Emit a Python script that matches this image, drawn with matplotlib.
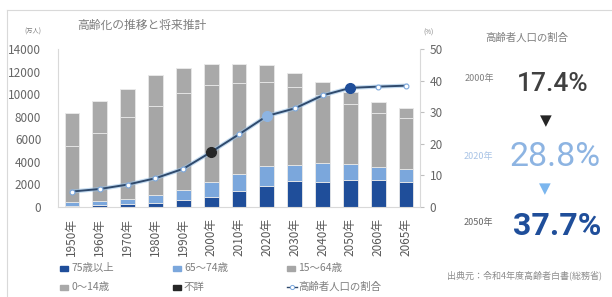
import matplotlib
matplotlib.use("Agg")
import matplotlib.pyplot as plt
from matplotlib.patches import Rectangle
from matplotlib.lines import Line2D
import numpy as np

plt.rcParams['font.family'] = ['Noto Sans CJK JP', 'DejaVu Sans']

years = ["1950年", "1960年", "1970年", "1980年", "1990年", "2000年", "2010年",
         "2020年", "2030年", "2040年", "2050年", "2060年", "2065年"]
age75_over = [107, 163, 224, 366, 597, 900, 1407, 1860, 2288, 2239, 2417, 2387, 2248]
age65_74 = [309, 376, 516, 699, 892, 1301, 1517, 1747, 1428, 1681, 1433, 1133, 1133]
age15_64 = [4966, 6047, 7212, 7883, 8590, 8622, 8103, 7509, 6875, 5978, 5275, 4793, 4529]
age0_14 = [2979, 2843, 2515, 2751, 2249, 1847, 1680, 1503, 1240, 1194, 1077, 951, 898]
unknown = [0, 0, 0, 0, 0, 0, 0, 0, 0, 0, 0, 0, 0]
elderly_ratio = [4.9, 5.7, 7.1, 9.1, 12.1, 17.4, 23.0, 28.8, 31.2, 35.3, 37.7, 38.1, 38.4]
highlight_idx = [5, 7, 10]
highlight_colors = ["#262626", "#8DB4E2", "#1F4E9A"]

C75 = "#1F4E9A"
C65 = "#7BA7DC"
C15 = "#A6A6A6"
C0 = "#A9A9A9"
CUNK = "#262626"
TXT = "#7F7F7F"

W, H = 612, 297
fig = plt.figure(figsize=(W / 100, H / 100), dpi=100)

def fx(px):
    return px / W

def fy(py):
    return 1 - py / H

ax = fig.add_axes([fx(58), fy(207), fx(420) - fx(58), fy(49) - fy(207)])
x = np.arange(len(years))
bw = 0.53
bottom = np.zeros(len(years))
for vals, col in [(age75_over, C75), (age65_74, C65), (age15_64, C15), (age0_14, C0), (unknown, CUNK)]:
    v = np.array(vals, dtype=float)
    ax.bar(x, v, bw, bottom=bottom, color=col, edgecolor="#E8E8E8", linewidth=0.6, zorder=2)
    bottom += v

ax.set_xlim(-0.5, len(years) - 0.5)
ax.set_ylim(0, 14000)
ax.set_yticks(np.arange(0, 14001, 2000))
ax.set_xticks(x)
ax.set_xticklabels(years, rotation=90, fontsize=8.5, color="#595959")
ax.tick_params(axis='y', labelsize=8.5, colors="#666666", length=0, pad=12)
ax.tick_params(axis='x', length=0, pad=8)
for s in ["top", "right"]:
    ax.spines[s].set_visible(False)
ax.spines["left"].set_color("#D9D9D9")
ax.spines["bottom"].set_color("#D9D9D9")

ax2 = ax.twinx()
ax2.set_ylim(0, 50)
ax2.set_yticks(np.arange(0, 51, 10))
ax2.tick_params(axis='y', labelsize=8.5, colors="#666666", length=3, color="#BFBFBF", pad=4)
for s in ["top", "left", "bottom"]:
    ax2.spines[s].set_visible(False)
ax2.spines["right"].set_color("#D9D9D9")
ax2.plot(x, elderly_ratio, color="#9DC3E6", lw=3.0, alpha=0.6, zorder=3)
ax2.plot(x, elderly_ratio, color="#2F4A6D", lw=1.4, marker='o', markersize=3.5,
         markerfacecolor="white", markeredgecolor="#7BA7DC", markeredgewidth=0.8, zorder=4)
for i, c in zip(highlight_idx, highlight_colors):
    ax2.plot(x[i], elderly_ratio[i], 'o', color=c, markersize=7, zorder=5)

# titles
fig.text(fx(142), fy(25), "高齢化の推移と将来推計", fontsize=8.5, color="#7F7F7F", ha="center", va="center")
fig.text(fx(33), fy(32), "(万人)", fontsize=4.5, color="#7F7F7F", ha="center", va="center")
fig.text(fx(428), fy(33), "(%)", fontsize=4.5, color="#7F7F7F", ha="center", va="center")

# legend (manual)
leg_items = [
    (60, 268, "patch", C75, "75歳以上"),
    (173, 268, "patch", C65, "65～74歳"),
    (287, 268, "patch", C15, "15～64歳"),
    (60, 287, "patch", C0, "0～14歳"),
    (173, 287, "patch", CUNK, "不詳"),
    (287, 287, "line", "#2F4A6D", "高齢者人口の割合"),
]
for px, py, kind, col, lab in leg_items:
    if kind == "patch":
        fig.add_artist(Rectangle((fx(px), fy(py + 2.5)), fx(8), 5 / H, color=col, transform=fig.transFigure))
    else:
        fig.add_artist(Line2D([fx(px), fx(px + 10)], [fy(py), fy(py)], color=col, lw=1.0,
                              transform=fig.transFigure))
        fig.add_artist(Line2D([fx(px + 5)], [fy(py)], marker='o', markersize=3, markerfacecolor="white",
                              markeredgecolor="#7BA7DC", markeredgewidth=0.7, transform=fig.transFigure))
    fig.text(fx(px + 11), fy(py), lab, fontsize=7.5, color=TXT, ha="left", va="center")

# right panel
fig.text(fx(527), fy(38), "高齢者人口の割合", fontsize=7.5, color="#7F7F7F", ha="center", va="center")
fig.text(fx(479), fy(78), "2000年", fontsize=6.5, color="#7F7F7F", ha="center", va="center")
fig.text(fx(553), fy(84), "17.4%", fontsize=19, color="#404040", ha="center", va="center",
         fontweight="medium", family=["Roboto", "DejaVu Sans"])
fig.text(fx(546), fy(121), "▼", fontsize=11, color="#262626", ha="center", va="center",
         family=["DejaVu Sans"])
fig.text(fx(478), fy(157), "2020年", fontsize=6.5, color="#A9C4E6", ha="center", va="center")
fig.text(fx(555), fy(157), "28.8%", fontsize=24.5, color="#8DB4E2", ha="center", va="center",
         family=["Roboto", "DejaVu Sans"])
fig.text(fx(545), fy(189), "▼", fontsize=11, color="#7BB6EE", ha="center", va="center",
         family=["DejaVu Sans"])
fig.text(fx(478), fy(222), "2050年", fontsize=6.5, color="#666666", ha="center", va="center")
fig.text(fx(557), fy(226), "37.7%", fontsize=23, color="#1F4E9A", ha="center", va="center",
         fontweight="bold", family=["Roboto", "DejaVu Sans"])
fig.text(fx(447), fy(275), "出典元：令和4年度高齢者白書(総務省)", fontsize=6.5, color="#8C8C8C",
         ha="left", va="center")

# border
fig.add_artist(Line2D([fx(7), 1], [fy(10), fy(10)], color="#D9D9D9", lw=0.8, transform=fig.transFigure))
fig.add_artist(Line2D([fx(7), fx(7)], [fy(10), 0], color="#D9D9D9", lw=0.8, transform=fig.transFigure))

fig.savefig("out.png", dpi=100)
